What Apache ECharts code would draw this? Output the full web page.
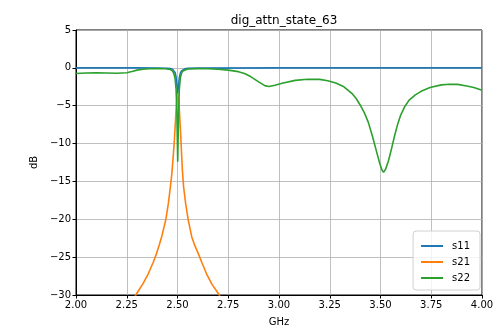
<!DOCTYPE html>
<html><head><meta charset="utf-8">
<script src="https://cdn.jsdelivr.net/npm/echarts@6/dist/echarts.min.js"></script>
<style>html,body{margin:0;padding:0;background:#fff}#c{width:499px;height:332px}</style>
</head><body><div id="c"></div>
<script>
const titleText = 'dig_attn_state_63';
const seriesNames = ['s11', 's21', 's22'];
const colors = ['#1f77b4', '#ff7f0e', '#2ca02c'];

const s11Freq = [2.0, 2.3, 2.4, 2.45, 2.465, 2.475, 2.482, 2.488, 2.493, 2.497, 2.501, 2.505, 2.509, 2.514, 2.52, 2.527, 2.535, 2.55, 2.6, 3.0, 4.0];
const s11Db   = [0, 0, -0.02, -0.05, -0.1, -0.18, -0.32, -0.6, -1.2, -2.3, -3.4, -2.4, -1.3, -0.7, -0.4, -0.22, -0.13, -0.07, -0.03, 0, 0];

const s21Freq = [2.285, 2.299, 2.33, 2.356, 2.38, 2.397, 2.41, 2.422, 2.432, 2.442, 2.455, 2.465, 2.472, 2.478, 2.484, 2.489, 2.493, 2.497, 2.50, 2.503, 2.507, 2.511, 2.516, 2.52, 2.524, 2.53, 2.54, 2.553, 2.57, 2.585, 2.602, 2.62, 2.643, 2.67, 2.701, 2.712];
const s21Db   = [-30.5, -29.8, -28.5, -27.2, -25.7, -24.5, -23.4, -22.3, -21.2, -20.1, -17.9, -15.7, -14.0, -12.0, -9.8, -7.5, -5.5, -4.0, -3.4, -3.5, -4.6, -6.5, -9.0, -11.3, -13.5, -15.7, -17.9, -20.1, -22.3, -23.45, -24.5, -25.7, -27.2, -28.6, -29.8, -30.3];

const s22Freq = [2.0, 2.05, 2.1, 2.15, 2.2, 2.25, 2.28, 2.3, 2.33, 2.36, 2.4, 2.44, 2.465, 2.475, 2.482, 2.488, 2.493, 2.497, 2.501, 2.505, 2.509, 2.514, 2.52, 2.527, 2.535, 2.55, 2.6, 2.65, 2.7, 2.75, 2.8, 2.83, 2.86, 2.9, 2.93, 2.95, 2.98, 3.02, 3.08, 3.14, 3.2, 3.24, 3.28, 3.32, 3.36, 3.38, 3.40, 3.42, 3.44, 3.46, 3.48, 3.495, 3.507, 3.515, 3.525, 3.54, 3.555, 3.57, 3.585, 3.6, 3.62, 3.64, 3.67, 3.7, 3.744, 3.8, 3.84, 3.88, 3.925, 3.96, 4.0];
const s22Db   = [-0.75, -0.68, -0.65, -0.68, -0.72, -0.65, -0.45, -0.3, -0.18, -0.12, -0.1, -0.12, -0.22, -0.4, -0.75, -1.4, -2.8, -6.0, -12.4, -6.5, -2.8, -1.3, -0.7, -0.4, -0.25, -0.15, -0.1, -0.12, -0.18, -0.3, -0.5, -0.75, -1.15, -1.85, -2.35, -2.47, -2.3, -2.0, -1.65, -1.5, -1.52, -1.7, -2.0, -2.5, -3.4, -4.05, -4.9, -5.9, -7.2, -9.0, -11.0, -12.5, -13.5, -13.8, -13.4, -12.2, -10.6, -8.9, -7.4, -6.2, -5.1, -4.3, -3.6, -3.1, -2.6, -2.25, -2.16, -2.18, -2.4, -2.6, -2.95];

const xTicks = {min: 2.0, max: 4.0, interval: 0.25};
const yTicks = {min: -30, max: 5, interval: 5};

const FONT = 'DejaVu Sans';
function pairs(xs, ys) { return xs.map((x, i) => [x, ys[i]]); }
function minus(v) { return v < 0 ? '\u2212' + Math.abs(v) : String(v); }

const chart = echarts.init(document.getElementById('c'), null, {renderer: 'canvas'});
const dataSets = [pairs(s11Freq, s11Db), pairs(s21Freq, s21Db), pairs(s22Freq, s22Db)];
chart.setOption({
  animation: false,
  backgroundColor: '#fff',
  textStyle: {fontFamily: FONT},
  title: {
    text: titleText, left: 279, top: 10, textAlign: 'center',
    textStyle: {fontFamily: FONT, fontSize: 12, fontWeight: 'normal', color: '#000'}
  },
  grid: {left: 76, right: 17, top: 30, bottom: 37, show: true, borderColor: '#000', borderWidth: 1, backgroundColor: 'transparent'},
  legend: {
    orient: 'vertical', right: 19, bottom: 42, itemGap: 6,
    backgroundColor: 'rgba(255,255,255,0.8)', borderColor: '#d0d0d0', borderWidth: 1, borderRadius: 3,
    padding: [10, 10, 7, 8],
    itemWidth: 22, itemHeight: 2, icon: 'rect',
    textStyle: {fontFamily: FONT, fontSize: 10, color: '#000', padding: [0, 0, 0, 4]},
    data: seriesNames
  },
  xAxis: {
    type: 'value', min: xTicks.min, max: xTicks.max, interval: xTicks.interval,
    name: 'GHz', nameLocation: 'middle', nameGap: 22,
    nameTextStyle: {fontFamily: FONT, fontSize: 10, color: '#000'},
    axisLine: {onZero: false, lineStyle: {color: '#000', width: 1}},
    axisTick: {show: true, length: 3.5, lineStyle: {color: '#000'}},
    axisLabel: {fontFamily: FONT, fontSize: 10, color: '#000', margin: 5, formatter: v => v.toFixed(2)},
    splitLine: {show: true, lineStyle: {color: '#b0b0b0', width: 0.8}}
  },
  yAxis: {
    type: 'value', min: yTicks.min, max: yTicks.max, interval: yTicks.interval,
    name: 'dB', nameLocation: 'middle', nameGap: 34, nameRotate: 90,
    nameTextStyle: {fontFamily: FONT, fontSize: 10, color: '#000'},
    axisLine: {show: true, onZero: false, lineStyle: {color: '#000', width: 1}},
    axisTick: {show: true, length: 3.5, lineStyle: {color: '#000'}},
    axisLabel: {fontFamily: FONT, fontSize: 10, color: '#000', margin: 5, formatter: minus},
    splitLine: {show: true, lineStyle: {color: '#b0b0b0', width: 0.8}}
  },
  series: seriesNames.map((n, i) => ({
    name: n, type: 'line', data: dataSets[i], showSymbol: false, symbol: 'none',
    clip: true, smooth: false, color: colors[i],
    lineStyle: {color: colors[i], width: 1.6}
  }))
});
</script></body></html>
